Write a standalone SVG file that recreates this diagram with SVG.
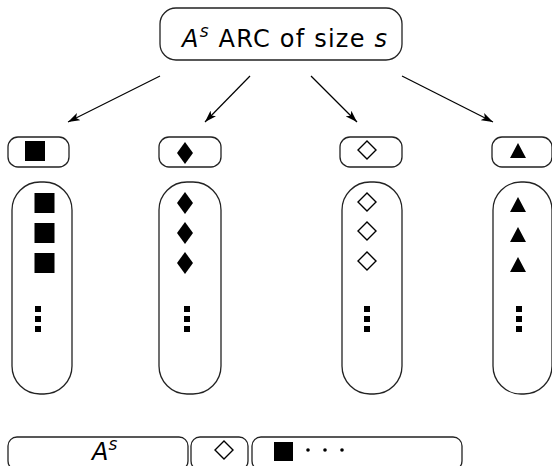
<svg xmlns="http://www.w3.org/2000/svg" width="552" height="466" viewBox="0 0 552 466">
  <defs>
    <marker id="arrow" viewBox="0 0 12 8" refX="12" refY="4" markerWidth="12" markerHeight="8" markerUnits="userSpaceOnUse" orient="auto">
      <path d="M0,0 L12,4 L0,8 L3,4 Z" fill="#000"/>
    </marker>
    <rect id="sq" x="-10" y="-10" width="20" height="20" fill="#000"/>
    <path id="fdia" d="M0,-11 L8,0 L0,11 L-8,0 Z" fill="#000"/>
    <path id="odia" d="M0,-9 L9,0 L0,9 L-9,0 Z" fill="none" stroke="#000" stroke-width="1.4"/>
    <path id="tri" d="M0,-8 L8,7 L-8,7 Z" fill="#000"/>
    <g id="vdots" fill="#000">
      <rect x="-3" y="-3" width="6" height="6"/>
      <rect x="-3" y="7" width="6" height="6"/>
      <rect x="-3" y="17" width="6" height="6"/>
    </g>
  </defs>
  <style>
    .box { fill: #fff; stroke: #222; stroke-width: 1.3; }
    .lbl { font-family: "DejaVu Sans", "Liberation Sans", sans-serif; font-size: 24px; fill: #000; }
    .edge { stroke: #000; stroke-width: 1.2; fill: none; marker-end: url(#arrow); }
  </style>

  <!-- root node -->
  <g id="root">
    <rect class="box" x="160" y="8" width="242" height="52" rx="16"/>
    <text class="lbl" x="182" y="47" textLength="205" lengthAdjust="spacing"><tspan font-style="italic">A</tspan><tspan font-style="italic" font-size="17" dy="-10">s</tspan><tspan dy="10"> ARC of size </tspan><tspan font-style="italic">s</tspan></text>
  </g>

  <!-- arrows from root to the four symbol headers -->
  <g id="connectors">
    <line class="edge" x1="160" y1="76" x2="68" y2="122"/>
    <line class="edge" x1="250" y1="76" x2="205" y2="122"/>
    <line class="edge" x1="311" y1="76" x2="357" y2="122"/>
    <line class="edge" x1="402" y1="76" x2="493" y2="122"/>
  </g>

  <!-- column 1: squares -->
  <g id="col-square">
    <rect class="box" x="8" y="137" width="61" height="30" rx="10"/>
    <use href="#sq" x="35" y="151"/>
    <rect class="box" x="12" y="182" width="60" height="212" rx="28"/>
    <use href="#sq" x="44.5" y="203"/>
    <use href="#sq" x="44.5" y="233"/>
    <use href="#sq" x="44.5" y="263"/>
    <use href="#vdots" x="38" y="309"/>
  </g>

  <!-- column 2: filled diamonds -->
  <g id="col-diamond">
    <rect class="box" x="159" y="137" width="62" height="30" rx="10"/>
    <use href="#fdia" x="185" y="153"/>
    <rect class="box" x="159" y="182" width="62" height="212" rx="28"/>
    <use href="#fdia" x="185" y="203"/>
    <use href="#fdia" x="185" y="233"/>
    <use href="#fdia" x="185" y="263"/>
    <use href="#vdots" x="187" y="309"/>
  </g>

  <!-- column 3: open diamonds -->
  <g id="col-open-diamond">
    <rect class="box" x="340" y="137" width="62" height="30" rx="10"/>
    <use href="#odia" x="367" y="150"/>
    <rect class="box" x="342" y="182" width="60" height="212" rx="28"/>
    <use href="#odia" x="367" y="202"/>
    <use href="#odia" x="367" y="231"/>
    <use href="#odia" x="367" y="261"/>
    <use href="#vdots" x="367" y="309"/>
  </g>

  <!-- column 4: triangles -->
  <g id="col-triangle">
    <rect class="box" x="492" y="137" width="60" height="30" rx="10"/>
    <use href="#tri" x="518" y="151"/>
    <rect class="box" x="493" y="182" width="59" height="212" rx="28"/>
    <use href="#tri" x="518" y="205"/>
    <use href="#tri" x="518" y="235"/>
    <use href="#tri" x="518" y="265"/>
    <use href="#vdots" x="519" y="309"/>
  </g>

  <!-- bottom row: composed sequence -->
  <g id="seq-prefix">
    <rect class="box" x="8" y="437" width="180" height="33" rx="9"/>
    <text class="lbl" x="92" y="460"><tspan font-style="italic">A</tspan><tspan font-style="italic" font-size="17" dy="-10">s</tspan></text>
  </g>
  <g id="seq-diamond">
    <rect class="box" x="191" y="437" width="57" height="33" rx="9"/>
    <use href="#odia" x="224" y="450"/>
  </g>
  <g id="seq-rest">
    <rect class="box" x="252" y="437" width="210" height="33" rx="9"/>
    <rect x="274" y="442" width="19" height="19" fill="#000"/>
    <circle cx="308" cy="450" r="1.8" fill="#000"/>
    <circle cx="325" cy="450" r="1.8" fill="#000"/>
    <circle cx="342" cy="450" r="1.8" fill="#000"/>
  </g>
</svg>
